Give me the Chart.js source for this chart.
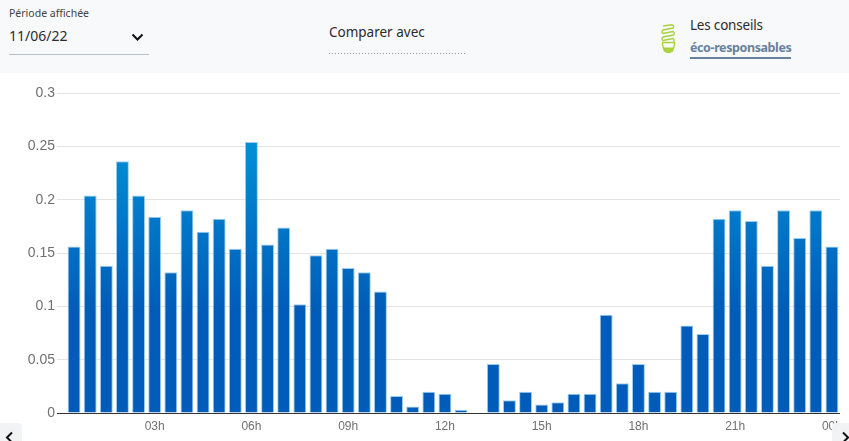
<!DOCTYPE html>
<html lang="fr">
<head>
<meta charset="utf-8">
<title>Consommation</title>
<script src="https://cdn.jsdelivr.net/npm/chart.js@4/dist/chart.umd.min.js"></script>
<style>
    html, body { margin: 0; padding: 0; background: #fff; overflow: hidden; }
    body { width: 849px; height: 441px; position: relative; font-family: "Noto Sans", sans-serif; color: #2b2b2b; }
    #header { position: absolute; left: 0; top: 0; width: 849px; height: 73px; background: #f8f9fb; }
    #header div, #header svg { position: absolute; white-space: nowrap; }
    #label-period { left: 9px; top: 5px; font-size: 10.5px; line-height: 16px; color: #444; }
    #value-period { left: 9px; top: 26px; font-size: 14px; line-height: 20px; }
    #line-period { left: 9px; top: 54px; width: 140px; height: 1px; background: #b4c2cf; }
    #label-compare { left: 329px; top: 22px; font-size: 13.5px; line-height: 20px; }
    #line-compare { left: 329px; top: 53px; width: 137px; height: 1px; background: repeating-linear-gradient(to right, #999 0, #999 1px, transparent 1px, transparent 3px); }
    #label-tips { left: 690px; top: 15px; font-size: 13.5px; line-height: 20px; letter-spacing: -0.2px; }
    #link-tips { left: 690px; top: 38px; font-size: 12.5px; line-height: 20px; font-weight: 700; letter-spacing: -0.4px; color: #67829c; border-bottom: 2px solid #67829c; height: 19px; }
    #chart-box { position: absolute; left: 0; top: 73px; width: 849px; height: 368px; }
    .nav { position: absolute; top: 423px; height: 18px; background: #f1f3f5; overflow: hidden; }
    #nav-left { left: 0; width: 22px; border-top-right-radius: 4px; }
    #nav-right { left: 832px; width: 17px; border-top-left-radius: 4px; }
    .nav svg { position: absolute; top: 8px; }
</style>
</head>
<body>
<div id="chart-box"><canvas id="myChart"></canvas></div>
<div id="header">
    <div id="label-period">Période affichée</div>
    <div id="value-period">11/06/22</div>
    <svg style="left:131px;top:33px" width="13" height="9" viewBox="0 0 13 9"><path d="M1.5 1.5 L6.5 6.5 L11.5 1.5" fill="none" stroke="#111" stroke-width="2"/></svg>
    <div id="line-period"></div>
    <div id="label-compare">Comparer avec</div>
    <div id="line-compare"></div>
    <svg style="left:660px;top:23px" width="17" height="31" viewBox="0 0 17 31">
        <g fill="none" stroke="#a9d23c" stroke-width="1.4">
            <path d="M3 3 L12 1.8 Q15 3 13 5 L3 7 Q1 9 3 10.5 L13 8.5 Q15.5 10 13.5 12 L3 14 Q1 16 3 17.5 L13 15.5 Q15 17 13.5 18.5"/>
            <path d="M2.5 19.5 H14.5 V22 L12.5 28 Q8.5 31 4.5 28 L2.5 22 Z"/>
        </g>
        <path d="M3.5 24.5 H13.5 L12.5 28 Q8.5 31 4.5 28 Z" fill="#a9d23c"/>
    </svg>
    <div id="label-tips">Les conseils</div>
    <div id="link-tips">éco-responsables</div>
</div>
<div class="nav" id="nav-left"><svg style="left:5px" width="9" height="14" viewBox="0 0 9 14"><path d="M7 1.5 L2 6.5 L7 11.5" fill="none" stroke="#111" stroke-width="2"/></svg></div>
<div class="nav" id="nav-right"><svg style="left:9px" width="9" height="14" viewBox="0 0 9 14"><path d="M2 1.5 L7 6.5 L2 11.5" fill="none" stroke="#111" stroke-width="2"/></svg></div>

<script>
const categories = [
    "00h30", "01h00", "01h30", "02h00", "02h30", "03h00", "03h30", "04h00",
    "04h30", "05h00", "05h30", "06h00", "06h30", "07h00", "07h30", "08h00",
    "08h30", "09h00", "09h30", "10h00", "10h30", "11h00", "11h30", "12h00",
    "12h30", "13h00", "13h30", "14h00", "14h30", "15h00", "15h30", "16h00",
    "16h30", "17h00", "17h30", "18h00", "18h30", "19h00", "19h30", "20h00",
    "20h30", "21h00", "21h30", "22h00", "22h30", "23h00", "23h30", "00h00",
];
const consommation = [
    0.156, 0.204, 0.138, 0.236, 0.204, 0.184, 0.132, 0.19,
    0.17, 0.182, 0.154, 0.254, 0.158, 0.174, 0.102, 0.148,
    0.154, 0.136, 0.132, 0.114, 0.016, 0.006, 0.02, 0.018,
    0.003, 0, 0.046, 0.012, 0.02, 0.008, 0.01, 0.018,
    0.018, 0.092, 0.028, 0.046, 0.02, 0.02, 0.082, 0.074,
    0.182, 0.19, 0.18, 0.138, 0.19, 0.164, 0.19, 0.156,
];
const xTicks = ["03h00", "06h00", "09h00", "12h00", "15h00", "18h00", "21h00", "00h00"];
const yTicks = [0, 0.05, 0.1, 0.15, 0.2, 0.25, 0.3];

// degrade commun a toutes les barres, calcule sur la zone du graphique
const barGradient = (context) => {
    const area = context.chart.chartArea;
    if (!area) return "#005cb8";
    const g = context.chart.ctx.createLinearGradient(0, area.top, 0, area.bottom);
    g.addColorStop(0, "#009ce0");
    g.addColorStop(0.15, "#0090d7");
    g.addColorStop(0.68, "#005cb8");
    g.addColorStop(1, "#005cb8");
    return g;
};

const ctx = document.getElementById("myChart").getContext("2d");
const myChart = new Chart(ctx, {
    type: "bar",
    data: {
        labels: categories,
        datasets: [{
            data: consommation,
            backgroundColor: barGradient,
            borderColor: "rgba(140, 195, 235, 0.85)",
            borderWidth: 1,
            categoryPercentage: 1,
            barPercentage: 0.8,
        }],
    },
    options: {
        responsive: true,
        maintainAspectRatio: false,
        animation: false,
        layout: { padding: { top: 20, right: 9, bottom: 0, left: 0 } },
        plugins: { legend: { display: false }, tooltip: { enabled: false } },
        scales: {
            x: {
                grid: { display: false, drawTicks: false },
                border: { display: false },
                afterFit: (scale) => { scale.height = 28; },
                ticks: {
                    autoSkip: false,
                    maxRotation: 0,
                    padding: 6,
                    color: "#707070",
                    font: { family: "Liberation Sans", size: 12 },
                    callback: (value, index) => xTicks.includes(categories[index]) ? categories[index].slice(0, 3) : "",
                },
            },
            y: {
                min: 0,
                max: 0.3,
                afterFit: (scale) => { scale.width = 66; },
                afterBuildTicks: (scale) => { scale.ticks = yTicks.map((v) => ({ value: v })); },
                border: { display: false },
                grid: {
                    tickLength: 9,
                    color: (c) => c.tick.value === 0 ? "#333333" : "#e4e4e4",
                },
                ticks: {
                    padding: 2,
                    color: "#707070",
                    font: { family: "Liberation Sans", size: 14 },
                    callback: (value) => String(value),
                },
            },
        },
    },
});
</script>
</body>
</html>
